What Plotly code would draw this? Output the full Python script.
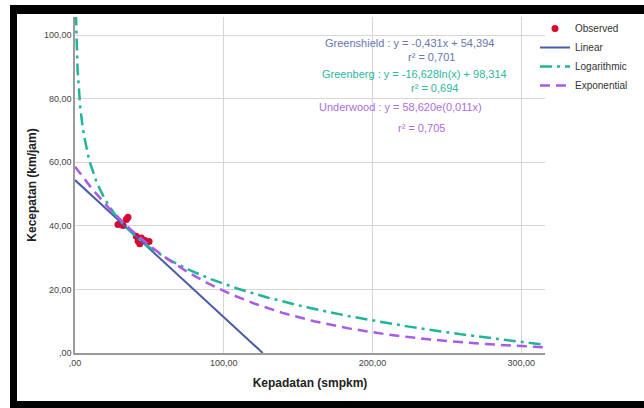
import numpy as np
import plotly.graph_objects as go

# ---- data ----
obs_density = [28.9, 32.3, 34.5, 35.6, 41.2, 42.4, 43.5, 44.6, 46.9, 49.8]
obs_speed = [40.4, 40.1, 42.0, 42.7, 36.7, 35.2, 34.4, 36.2, 35.4, 35.1]

# fitted model coefficients shown on the chart
lin_slope, lin_intercept = -0.431, 54.394        # Greenshield
log_coef, log_intercept = -16.628, 98.314         # Greenberg
exp_a, exp_b = 58.620, -0.011                     # Underwood

x_ticks = [0, 100, 200, 300]
x_ticklabels = [",00", "100,00", "200,00", "300,00"]
y_ticks = [0, 20, 40, 60, 80, 100]
y_ticklabels = [",00", "20,00", "40,00", "60,00", "80,00", "100,00"]

X_MAX, Y_MAX = 316, 105.7

# curve sample positions
x_lin = np.linspace(0, -lin_intercept / lin_slope, 100)
x_log = np.concatenate([np.linspace(0.6, 5, 60), np.linspace(5, X_MAX, 300)])
x_exp = np.linspace(0, X_MAX, 300)

C_LIN = "#4a5ca6"
C_LOG = "#20b597"
C_EXP = "#a95ae8"
C_OBS = "#d8092f"

fig = go.Figure()
fig.add_trace(go.Scatter(x=obs_density, y=obs_speed, mode="markers", name="Observed",
                         marker=dict(color=C_OBS, size=7)))
fig.add_trace(go.Scatter(x=x_lin, y=lin_slope * x_lin + lin_intercept, mode="lines",
                         name="Linear", line=dict(color=C_LIN, width=2)))
fig.add_trace(go.Scatter(x=x_log, y=log_coef * np.log(x_log) + log_intercept, mode="lines",
                         name="Logarithmic",
                         line=dict(color=C_LOG, width=2.5, dash="12px,5px,3px,5px")))
fig.add_trace(go.Scatter(x=x_exp, y=exp_a * np.exp(exp_b * x_exp), mode="lines",
                         name="Exponential",
                         line=dict(color=C_EXP, width=2.5, dash="10px,6px")))

ann_font = dict(family="Liberation Sans, Arial", size=11)
anns = [
    (225, 97.6, "Greenshield : y = -0,431x + 54,394", "#6676b0"),
    (240, 93.2, "r² = 0,701", "#6676b0"),
    (228, 87.9, "Greenberg : y = -16,628ln(x) + 98,314", "#2db79f"),
    (242, 83.5, "r² = 0,694", "#2db79f"),
    (219, 77.5, "Underwood : y = 58,620e(0,011x)", "#ad6ddf"),
    (233, 70.9, "r² = 0,705", "#ad6ddf"),
]
for ax_, ay_, t, c in anns:
    fig.add_annotation(x=ax_, y=ay_, xref="x", yref="y", text=t, showarrow=False,
                       font=dict(color=c, **ann_font), xanchor="center", yanchor="middle")

# page body margin is removed below, so figure pixels = screen pixels
FW, FH = 644, 408
L, T = 75, 17
R = FW - 545
B = FH - 353
W, H = FW - L - R, FH - T - B


def px(x):
    return (x - L) / W


def py(y):
    return (FH - B - y) / H


# black frame around the picture (screen pixel rects)
frame = [(10, 5, 660, 14), (10, 5, 17, 420), (10, 401, 660, 420)]
for x0, y0, x1, y1 in frame:
    fig.add_shape(type="rect", xref="paper", yref="paper", x0=px(x0), x1=px(x1),
                  y0=py(y1), y1=py(y0), fillcolor="black", line=dict(width=0),
                  layer="above")

axis_common = dict(showgrid=True, gridcolor="#d6d6d6", gridwidth=1,
                   showline=True, linecolor="#9a9a9a", linewidth=1.5,
                   zeroline=False, ticks="",
                   tickfont=dict(family="Liberation Sans, Arial", size=9, color="#444"),
                   title_font=dict(family="Liberation Sans, Arial", size=12, color="#222"))

fig.update_layout(
    width=FW, height=FH,
    margin=dict(l=L, r=R, t=T, b=B, autoexpand=False),
    paper_bgcolor="white", plot_bgcolor="white",
    showlegend=True,
    legend=dict(x=px(535), y=py(14), xanchor="left", yanchor="top",
                font=dict(family="Liberation Sans, Arial", size=10, color="#333"),
                bgcolor="rgba(0,0,0,0)", itemwidth=30, tracegroupgap=0),
    xaxis=dict(range=[0, X_MAX], tickvals=x_ticks, ticktext=x_ticklabels,
               title=dict(text="<b>Kepadatan (smpkm)</b>", standoff=12), **axis_common),
    yaxis=dict(range=[0, Y_MAX], tickvals=y_ticks, ticktext=y_ticklabels,
               title=dict(text="<b>Kecepatan (km/jam)</b>", standoff=5), **axis_common),
)

fig.write_html(
    "out.html",
    config={"displayModeBar": False},
    post_script="document.body.style.margin='0';document.body.style.overflow='hidden';",
)
